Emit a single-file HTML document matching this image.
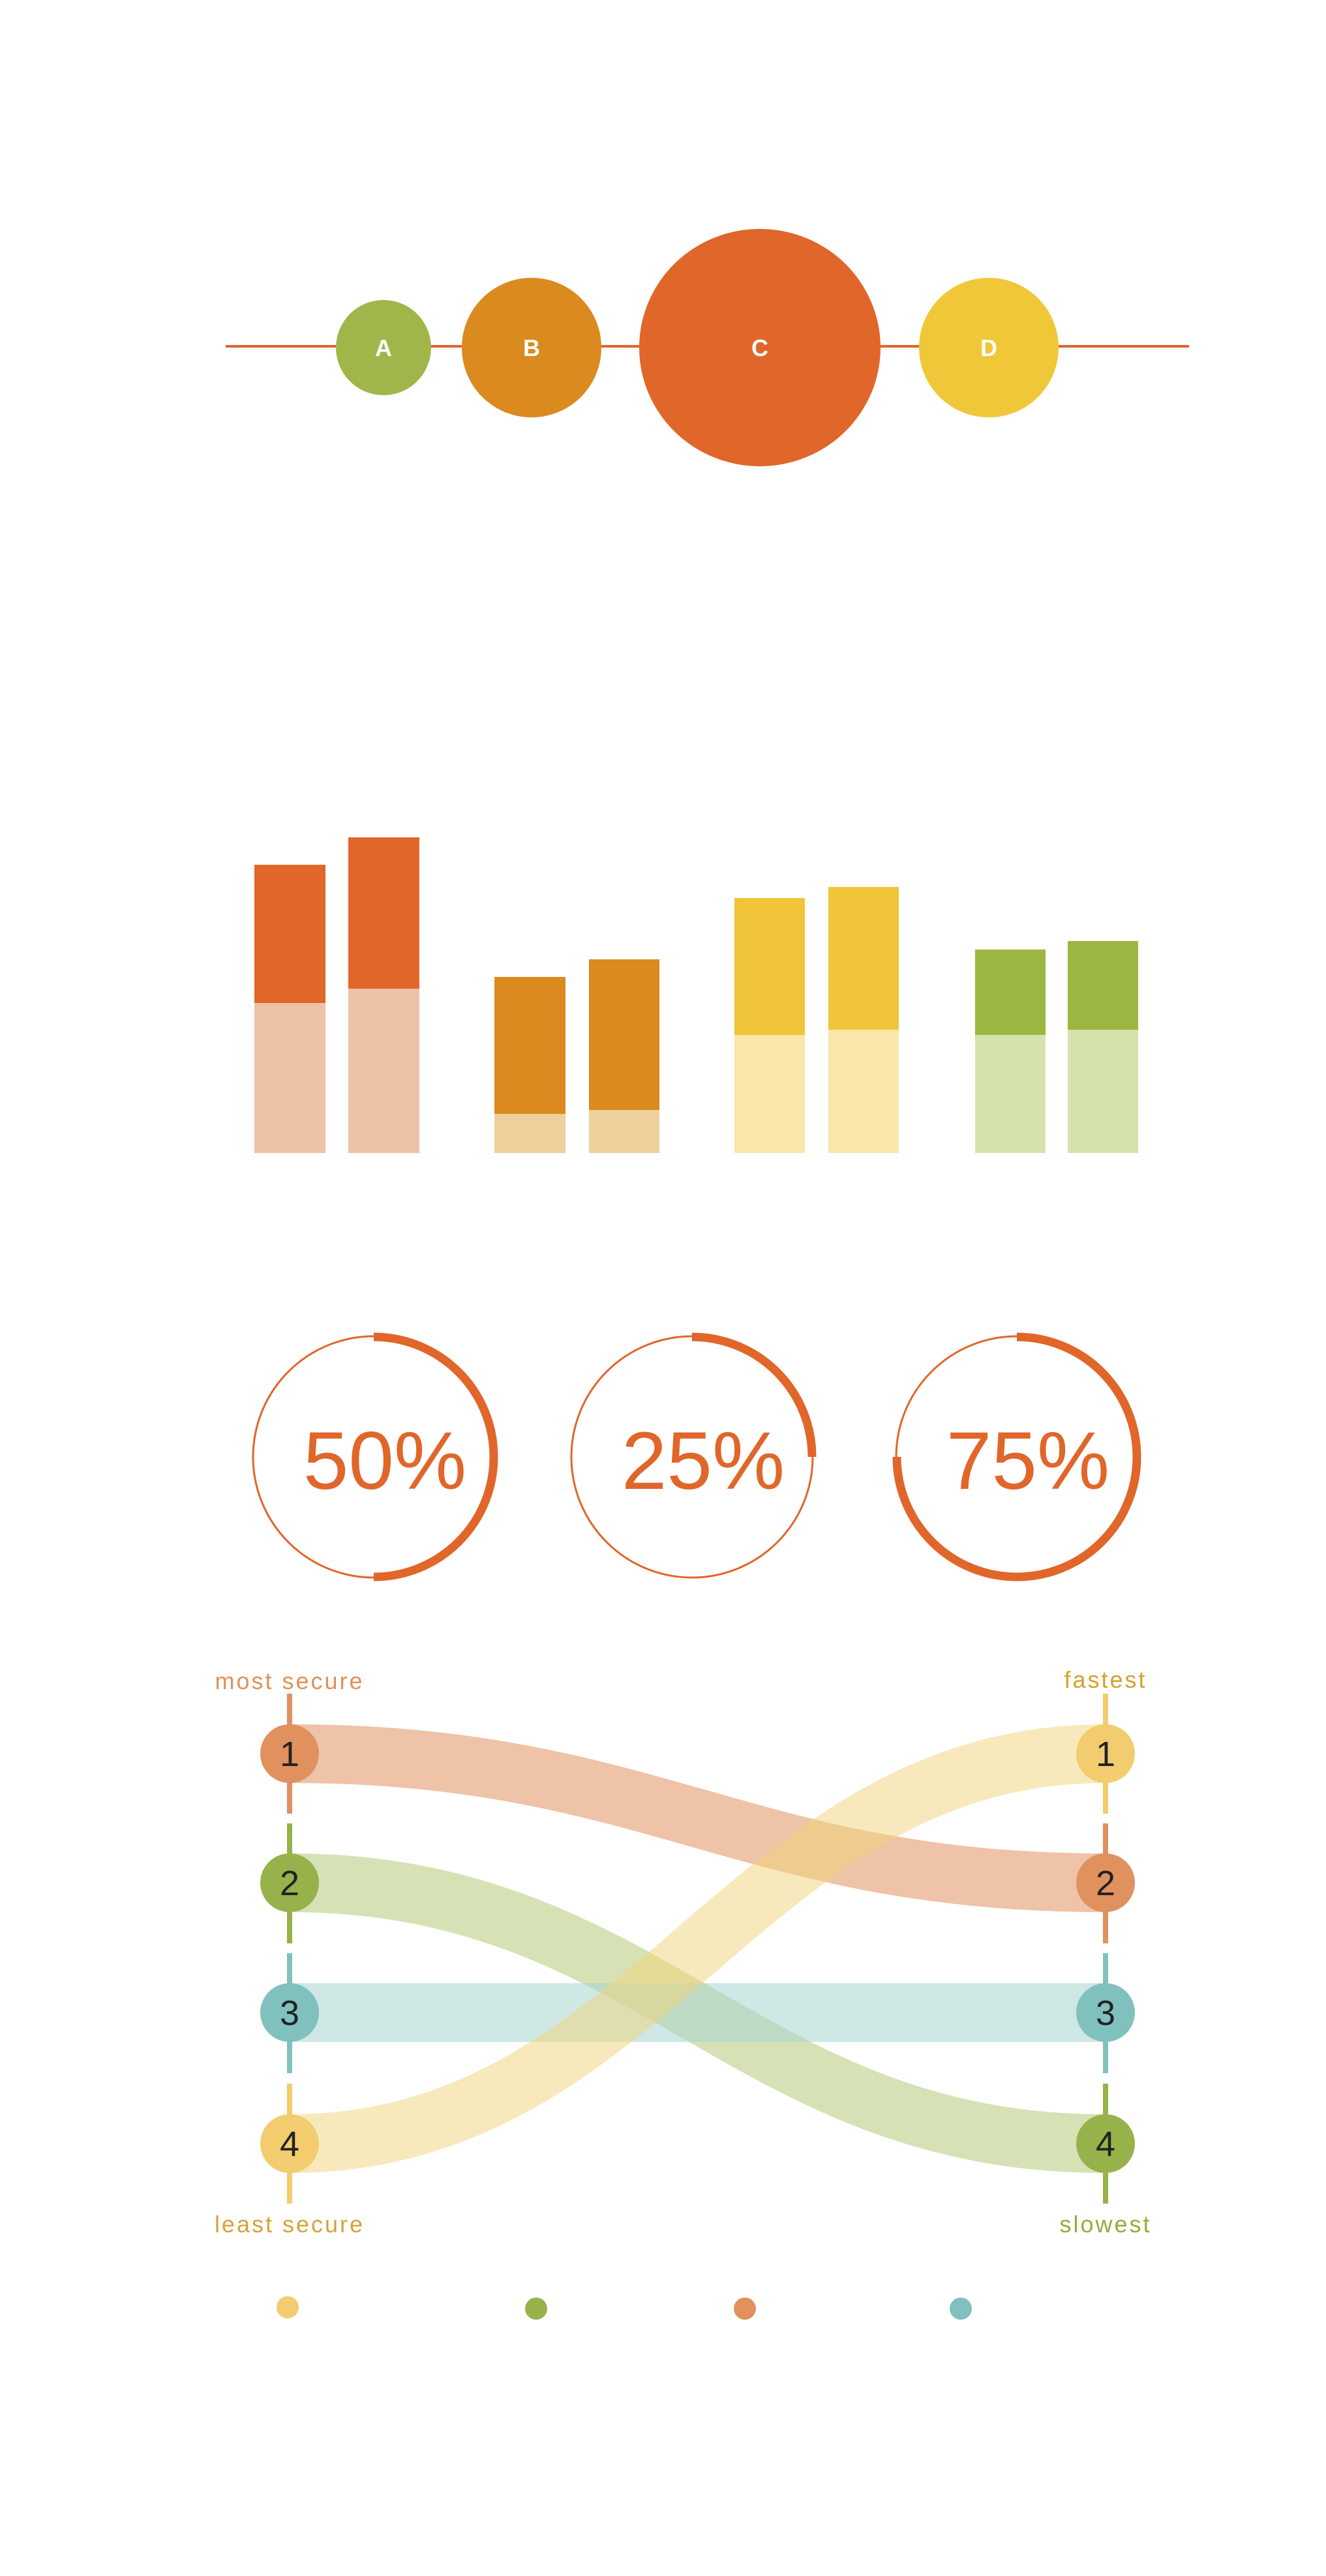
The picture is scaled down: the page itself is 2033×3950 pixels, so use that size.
<!DOCTYPE html>
<html><head><meta charset="utf-8"><style>
html,body{margin:0;padding:0;background:#fff;}
svg{display:block;}
text{font-family:"Liberation Sans",sans-serif;}
</style></head><body>
<svg width="2033" height="3950" viewBox="0 0 2033 3950" xmlns="http://www.w3.org/2000/svg">
<!-- bubbles -->
<line x1="346" y1="531" x2="1823" y2="531" stroke="#E0662A" stroke-width="4"/>
<circle cx="588" cy="533" r="73" fill="#A1B64A"/>
<circle cx="815" cy="533" r="107" fill="#DA8A1F"/>
<ellipse cx="1165" cy="533" rx="185" ry="182" fill="#E0662A"/>
<circle cx="1516" cy="533" r="107" fill="#F1C73A"/>
<g fill="#fff" font-weight="bold" font-size="36" text-anchor="middle">
<text x="588" y="546">A</text><text x="815" y="546">B</text><text x="1165" y="546">C</text><text x="1516" y="546">D</text>
</g>
<!-- bars -->
<rect x="390" y="1326" width="109" height="212" fill="#E0662A"/><rect x="390" y="1538" width="109" height="230" fill="#EEC2A7"/>
<rect x="534" y="1284" width="109" height="232" fill="#E0662A"/><rect x="534" y="1516" width="109" height="252" fill="#EEC2A7"/>
<rect x="758" y="1498" width="109" height="210" fill="#DA8A1F"/><rect x="758" y="1708" width="109" height="60" fill="#EED09C"/>
<rect x="903" y="1471" width="108" height="231" fill="#DA8A1F"/><rect x="903" y="1702" width="108" height="66" fill="#EED09C"/>
<rect x="1126" y="1377" width="108" height="210" fill="#F0C53A"/><rect x="1126" y="1587" width="108" height="181" fill="#F8E7A8"/>
<rect x="1270" y="1360" width="108" height="219" fill="#F0C53A"/><rect x="1270" y="1579" width="108" height="189" fill="#F8E7A8"/>
<rect x="1495" y="1456" width="108" height="131" fill="#9BB741"/><rect x="1495" y="1587" width="108" height="181" fill="#D6E2AC"/>
<rect x="1637" y="1443" width="108" height="136" fill="#9BB741"/><rect x="1637" y="1579" width="108" height="189" fill="#D6E2AC"/>
<!-- rings -->
<g fill="none" stroke="#E0662A">
<circle cx="573" cy="2234" r="185" stroke-width="3"/>
<path d="M573 2050 A184 184 0 0 1 573 2418" stroke-width="13"/>
<circle cx="1061" cy="2234" r="185" stroke-width="3"/>
<path d="M1061 2050 A184 184 0 0 1 1245 2234" stroke-width="13"/>
<circle cx="1559" cy="2234" r="185" stroke-width="3"/>
<path d="M1559 2050 A184 184 0 1 1 1375 2234" stroke-width="13"/>
</g>
<g fill="#E0662A" font-size="125" text-anchor="middle">
<text x="590" y="2283">50%</text><text x="1078" y="2283">25%</text><text x="1576" y="2283">75%</text>
</g>
<!-- sankey bands -->
<g fill="none" stroke-width="90">
<path d="M444 2689 C1000 2689 1140 2887 1695 2887" stroke="#E0915E" opacity="0.55"/>
<path d="M444 2887 C1000 2887 1140 3287 1695 3287" stroke="#B5CA78" opacity="0.55"/>
<path d="M444 3086 L1695 3086" stroke="#A8D3D0" opacity="0.55"/>
<path d="M444 3287 C1000 3287 1140 2689 1695 2689" stroke="#F2D47A" opacity="0.5"/>
</g>
<!-- axis segments -->
<g stroke-width="8">
<line x1="444" y1="2597" x2="444" y2="2781" stroke="#E0915E"/>
<line x1="444" y1="2796" x2="444" y2="2980" stroke="#97B24A"/>
<line x1="444" y1="2995" x2="444" y2="3179" stroke="#80C1BE"/>
<line x1="444" y1="3195" x2="444" y2="3379" stroke="#F2CC6E"/>
<line x1="1695" y1="2597" x2="1695" y2="2781" stroke="#F2CC6E"/>
<line x1="1695" y1="2796" x2="1695" y2="2980" stroke="#E0915E"/>
<line x1="1695" y1="2995" x2="1695" y2="3179" stroke="#80C1BE"/>
<line x1="1695" y1="3195" x2="1695" y2="3379" stroke="#97B24A"/>
</g>
<circle cx="444" cy="2689" r="45" fill="#E0915E"/>
<circle cx="444" cy="2887" r="45" fill="#97B24A"/>
<circle cx="444" cy="3086" r="45" fill="#80C1BE"/>
<circle cx="444" cy="3287" r="45" fill="#F2CC6E"/>
<circle cx="1695" cy="2689" r="45" fill="#F2CC6E"/>
<circle cx="1695" cy="2887" r="45" fill="#E0915E"/>
<circle cx="1695" cy="3086" r="45" fill="#80C1BE"/>
<circle cx="1695" cy="3287" r="45" fill="#97B24A"/>
<g fill="#222" font-size="54" text-anchor="middle">
<text x="444" y="2708">1</text><text x="444" y="2906">2</text><text x="444" y="3105">3</text><text x="444" y="3306">4</text>
<text x="1695" y="2708">1</text><text x="1695" y="2906">2</text><text x="1695" y="3105">3</text><text x="1695" y="3306">4</text>
</g>
<g font-size="36" text-anchor="middle" letter-spacing="3">
<text x="444" y="2590" fill="#E0915A">most secure</text>
<text x="1695" y="2588" fill="#D4A22E">fastest</text>
<text x="444" y="3423" fill="#D4A43A">least secure</text>
<text x="1695" y="3423" fill="#8FAE3A">slowest</text>
</g>
<!-- legend dots -->
<circle cx="441" cy="3538" r="17" fill="#F2CC6E"/>
<circle cx="822" cy="3540" r="17" fill="#97B24A"/>
<circle cx="1142" cy="3540" r="17" fill="#E0915E"/>
<circle cx="1473" cy="3540" r="17" fill="#80C1BE"/>
</svg>
</body></html>
